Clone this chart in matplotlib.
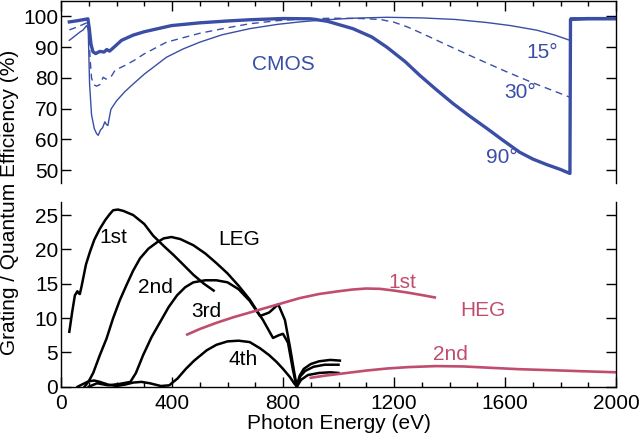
# Эффективность решёток и квантовая эффективность CMOS-детектора
import matplotlib.pyplot as plt
from matplotlib.ticker import MultipleLocator

plt.rcParams['font.family'] = ['Liberation Sans', 'DejaVu Sans']

# --- верхняя панель: CMOS при разных углах падения ---
e_15 = [30, 50, 68, 80, 92, 98, 103, 110, 120, 128, 134, 142, 150, 158, 164, 169, 174,
        180, 200, 230, 260, 300, 380, 440, 500, 580, 680, 780, 860, 940, 1050, 1174,
        1300, 1420, 1534, 1620, 1715, 1780, 1834, 1836, 1900, 2000]
qe_15 = [92.2, 93.6, 94.9, 95.6, 97.0, 96.0, 78.0, 68.0, 63.5, 61.9, 61.3, 63.0, 63.8,
         65.7, 64.8, 64.5, 67.0, 69.8, 72.5, 75.5, 78.0, 81.2, 86.7, 89.4, 91.6, 94.0,
         96.0, 97.4, 98.2, 98.8, 99.4, 99.7, 99.5, 99.0, 98.0, 97.0, 95.5, 93.9, 92.2,
         99.5, 99.6, 99.6]

e_30 = [30, 60, 95, 101, 105, 110, 118, 128, 140, 152, 162, 172, 182, 195, 230, 260,
        300, 380, 450, 500, 600, 680, 780, 880, 980, 1080, 1150, 1200, 1250, 1300, 1400,
        1500, 1600, 1700, 1834, 1836, 1900, 2000]
qe_30 = [95.6, 96.6, 98.0, 94.0, 86.0, 80.0, 77.8, 77.3, 77.8, 80.2, 79.6, 79.9, 80.6,
         82.5, 84.0, 85.5, 87.8, 91.6, 93.3, 94.5, 96.3, 97.6, 98.6, 99.2, 99.4, 99.3,
         99.0, 98.1, 96.5, 94.5, 90.3, 86.2, 82.2, 78.4, 73.7, 99.4, 99.4, 99.4]

e_90 = [30, 60, 97, 102, 108, 115, 125, 140, 155, 165, 175, 185, 195, 218, 260, 300,
        398, 500, 600, 680, 800, 900, 960, 1052, 1120, 1174, 1240, 1293, 1352, 1412,
        1472, 1534, 1594, 1653, 1700, 1750, 1800, 1834, 1836, 1900, 2000]
qe_90 = [98.2, 98.6, 99.2, 96.0, 91.0, 88.5, 87.9, 88.6, 88.4, 89.2, 88.7, 89.5, 90.3,
         92.2, 93.9, 95.0, 97.0, 97.9, 98.5, 98.9, 99.3, 99.2, 98.4, 96.0, 93.3, 90.0,
         85.3, 80.8, 76.2, 71.7, 67.6, 63.6, 59.6, 55.8, 53.6, 51.8, 50.2, 48.9, 99.0,
         99.2, 99.2]

# --- нижняя панель: LEG (порядки 1-4) и HEG (порядки 1-2) ---
e_leg1 = [30, 40, 50, 59, 64, 68, 74, 80, 90, 104, 120, 140, 160, 175, 188, 205, 225,
          260, 300, 332, 370, 405, 440, 477, 515, 550]
eff_leg1 = [8.0, 10.8, 13.3, 13.9, 13.6, 13.5, 14.6, 15.8, 17.8, 19.6, 21.4, 23.0,
            24.3, 25.1, 25.7, 25.8, 25.6, 25.0, 23.7, 22.0, 20.5, 19.2, 17.8, 16.3,
            15.0, 14.0]

e_leg2 = [85, 100, 116, 140, 164, 188, 212, 236, 260, 285, 315, 345, 370, 398, 430,
          477, 520, 560, 600, 640, 680, 728, 764, 785, 800, 818, 836, 849, 860, 875,
          900, 930, 970, 1005]
eff_leg2 = [0.0, 0.8, 2.0, 4.6, 7.0, 10.0, 12.6, 14.8, 16.9, 18.7, 20.1, 21.0, 21.6,
            21.8, 21.5, 20.6, 19.4, 18.0, 16.5, 14.7, 12.7, 9.7, 7.1, 7.5, 7.7, 6.4,
            2.4, 0.0, 1.6, 2.6, 3.3, 3.7, 3.9, 3.8]

e_leg3 = [100, 130, 170, 210, 250, 270, 296, 326, 357, 388, 418, 448, 477, 520, 560,
          600, 640, 680, 717, 750, 783, 807, 825, 843, 850, 862, 880, 910, 950, 1000]
eff_leg3 = [0.0, 0.5, 0.2, 0.4, 0.7, 2.0, 4.6, 7.2, 9.4, 11.6, 13.3, 14.5, 15.2, 15.5,
            15.5, 15.2, 14.2, 12.5, 10.3, 10.8, 12.0, 9.7, 5.8, 1.5, 0.0, 1.5, 2.3,
            2.9, 3.2, 3.2]

e_leg4 = [60, 80, 100, 120, 140, 170, 200, 230, 260, 290, 320, 360, 390, 420, 450,
          480, 525, 560, 600, 640, 680, 717, 750, 777, 800, 825, 840, 850, 865, 890,
          930, 970, 1000]
eff_leg4 = [0.0, 0.4, 0.8, 0.9, 0.7, 0.3, 0.1, 0.3, 0.6, 0.7, 0.5, 0.1, 0.2, 1.2, 2.6,
            3.8, 5.3, 6.1, 6.6, 6.7, 6.5, 5.6, 4.6, 3.6, 2.6, 1.4, 0.5, 0.0, 1.0, 1.7,
            2.0, 2.1, 2.0]

e_heg1 = [455, 500, 560, 620, 680, 740, 800, 860, 930, 1000, 1050, 1100, 1150, 1200,
          1250, 1300, 1347]
eff_heg1 = [7.6, 8.4, 9.3, 10.1, 10.8, 11.5, 12.2, 12.9, 13.5, 13.9, 14.15, 14.3,
            14.25, 14.0, 13.7, 13.35, 13.0]

e_heg2 = [900, 950, 1000, 1050, 1100, 1175, 1250, 1350, 1450, 1550, 1650, 1770, 1880,
          2000]
eff_heg2 = [1.3, 1.6, 1.85, 2.1, 2.35, 2.65, 2.85, 3.0, 2.95, 2.75, 2.55, 2.4, 2.25,
            2.1]

blue = '#3a4ea6'
pink = '#c04d6e'
fs = 15

fig = plt.figure(figsize=(6.4, 4.36), dpi=100)
ax1 = fig.add_axes([61/640, 1 - 183/436, 555/640, 182/436])
ax2 = fig.add_axes([61/640, 1 - 386.7/436, 555/640, 184.7/436])

ax1.plot(e_15, qe_15, color=blue, lw=1.0)
ax1.plot(e_30, qe_30, color=blue, lw=1.0, dashes=(5, 3.5))
ax1.plot(e_90, qe_90, color=blue, lw=2.4)
ax1.set_xlim(0, 2000)
ax1.set_ylim(45.8, 105.0)
ax1.spines['bottom'].set_visible(False)
ax1.set_yticks([50, 60, 70, 80, 90, 100])
ax1.xaxis.set_major_locator(MultipleLocator(400))
ax1.xaxis.set_minor_locator(MultipleLocator(100))
ax1.tick_params(axis='x', which='both', top=True, bottom=False,
                labelbottom=False, direction='in')
ax1.tick_params(axis='y', left=True, right=True, labelright=False)

ax1.text(801, 82.5, 'CMOS', color=blue, fontsize=fs, ha='center')
ax1.text(1677, 86.3, '15°', color=blue, fontsize=fs)
ax1.text(1599, 73.3, '30°', color=blue, fontsize=fs)
ax1.text(1533, 52.2, '90°', color=blue, fontsize=fs)

for e, eff in [(e_leg1, eff_leg1), (e_leg2, eff_leg2), (e_leg3, eff_leg3),
               (e_leg4, eff_leg4)]:
    ax2.plot(e, eff, color='black', lw=1.8)
ax2.plot(e_heg1, eff_heg1, color=pink, lw=1.9)
ax2.plot(e_heg2, eff_heg2, color=pink, lw=1.9)
ax2.set_xlim(0, 2000)
ax2.set_ylim(0, 26.9)
ax2.spines['top'].set_visible(False)
ax2.set_yticks([0, 5, 10, 15, 20, 25])
ax2.xaxis.set_major_locator(MultipleLocator(400))
ax2.xaxis.set_minor_locator(MultipleLocator(100))
ax2.tick_params(axis='x', which='both', top=False, direction='in', pad=5)
ax2.tick_params(axis='y', left=True, right=True, labelright=False)
ax2.set_xlabel('Photon Energy (eV)', fontsize=fs, labelpad=1)

ax2.text(140, 20.9, '1st', fontsize=fs)
ax2.text(566, 20.6, 'LEG', fontsize=fs)
ax2.text(278, 13.6, '2nd', fontsize=fs)
ax2.text(471, 10.2, '3rd', fontsize=fs)
ax2.text(602, 3.2, '4th', fontsize=fs)
ax2.text(1178, 14.4, '1st', color=pink, fontsize=fs)
ax2.text(1437, 10.3, 'HEG', color=pink, fontsize=fs)
ax2.text(1340, 3.9, '2nd', color=pink, fontsize=fs)

for ax in (ax1, ax2):
    for s in ax.spines.values():
        s.set_linewidth(1.0)
    ax.tick_params(which='major', direction='in', length=7.5, width=1,
                   labelsize=fs)
    ax.tick_params(which='minor', direction='in', length=3.5, width=1)
    ax.tick_params(axis='y', pad=2)

fig.text(10/640, 1 - 202/436, 'Grating / Quantum Efficiency (%)', fontsize=fs,
         rotation=90, ha='center', va='center')

fig.savefig('out.png', dpi=100)
